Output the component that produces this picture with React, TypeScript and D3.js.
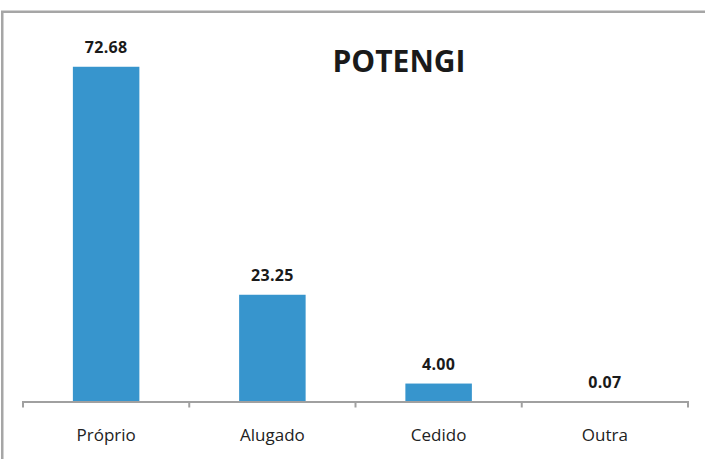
import React from "react";
import * as d3 from "d3";

const categories = ["Próprio", "Alugado", "Cedido", "Outra"];
const values = [72.68, 23.25, 4.0, 0.07];
const valueLabels = ["72.68", "23.25", "4.00", "0.07"];
const title = "POTENGI";

const W = 705;
const H = 459;

export default function App() {
  const x = d3
    .scaleBand<string>()
    .domain(categories)
    .range([23, 688])
    .paddingInner(0.6)
    .paddingOuter(0.3);
  const y = d3.scaleLinear().domain([0, 80]).range([402, 33]);
  const tickXs = categories.map((c) => (x(c) as number) - x.step() * 0.3);
  tickXs.push(688);
  const font = "'Open Sans', 'DejaVu Sans', sans-serif";
  return (
    <svg
      width={W}
      height={H}
      style={{ position: "absolute", left: 0, top: 0, background: "#fff" }}
    >
      <rect x={2.25} y={11.75} width={760} height={500} fill="#fff" stroke="#a6a6a6" strokeWidth={2.5} />
      <text x={399} y={72} textAnchor="middle" fontFamily={font} fontWeight={700} fontSize={30} fill="#1a1a1a">
        {title}
      </text>
      {categories.map((c, i) => (
        <rect
          key={c}
          x={x(c)}
          y={y(values[i])}
          width={x.bandwidth()}
          height={y(0) - y(values[i])}
          fill="#3795cd"
        />
      ))}
      <line x1={22} x2={689} y1={402} y2={402} stroke="#a0a0a0" strokeWidth={2} />
      {tickXs.map((t, i) => (
        <line key={i} x1={t} x2={t} y1={401} y2={407.5} stroke="#a0a0a0" strokeWidth={2} />
      ))}
      {categories.map((c, i) => (
        <text
          key={"v" + c}
          x={(x(c) as number) + x.bandwidth() / 2}
          y={y(values[i]) - 14}
          textAnchor="middle"
          fontFamily={font}
          fontWeight={700}
          fontSize={16}
          letterSpacing={0.3}
          fill="#1a1a1a"
        >
          {valueLabels[i]}
        </text>
      ))}
      {categories.map((c) => (
        <text
          key={"c" + c}
          x={(x(c) as number) + x.bandwidth() / 2}
          y={441}
          textAnchor="middle"
          fontFamily={font}
          fontSize={17}
          fill="#222"
        >
          {c}
        </text>
      ))}
    </svg>
  );
}
